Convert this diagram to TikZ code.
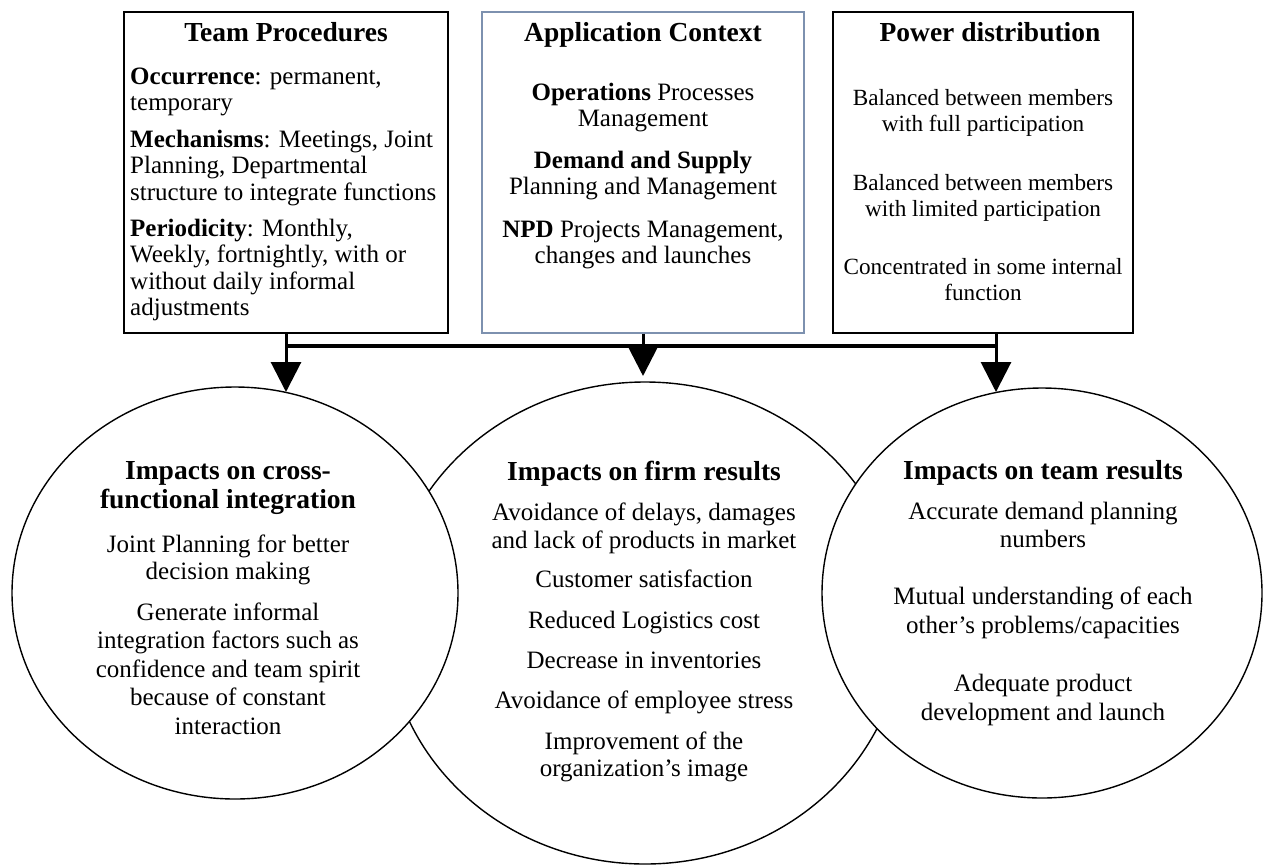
\documentclass[tikz,border=0pt]{standalone}
\usepackage{fontspec}
\setmainfont{Liberation Serif}
\usetikzlibrary{arrows.meta,shapes.geometric}
\newcommand\bodyf{\fontsize{25}{28}\selectfont}
\newcommand\smallbodyf{\fontsize{23.2}{26}\selectfont}
\newcommand\headf{\fontsize{27.5}{30}\selectfont\bfseries}
\definecolor{boxblue}{RGB}{125,145,175}
\tikzset{
  box/.style={draw=black, line width=1.5pt, fill=white, rectangle, inner sep=0pt},
  boxb/.style={draw=boxblue, line width=1.1pt, fill=white, rectangle, inner sep=0pt},
  circ/.style={draw=black, line width=1.4pt, fill=white, ellipse, inner sep=0pt},
  tx/.style={anchor=base, inner sep=0pt, font=\bodyf},
  txs/.style={anchor=base, inner sep=0pt, font=\smallbodyf},
  txl/.style={anchor=base west, inner sep=0pt, font=\bodyf},
  hd/.style={anchor=base, inner sep=0pt, font=\headf},
  conn/.style={line width=3pt, -{Triangle[length=30pt,width=30pt]}},
  bar/.style={line width=4pt}
}
\begin{document}
\begin{tikzpicture}[x=1pt,y=-1pt]
\useasboundingbox (0,0) rectangle (1263,865);
% boxes
\node[box, minimum width=324pt, minimum height=321pt] (tp) at (286,172.5) {};
\node[boxb, minimum width=322pt, minimum height=321pt] (ac) at (643,172.5) {};
\node[box, minimum width=300pt, minimum height=321pt] (pd) at (983,172.5) {};
% circles
\node[circ, minimum width=516pt, minimum height=482pt] (fc) at (645,623) {};
\node[circ, minimum width=446pt, minimum height=412pt] (lc) at (235,593) {};
\node[circ, minimum width=440pt, minimum height=410pt] (rc) at (1042,593) {};
% box 1 text
\node[hd] (tph) at (286,41) {Team Procedures};
\node[txl] (tp1) at (130,84) {\textbf{Occurrence}: permanent,};
\node[txl] (tp2) at (130,110.5) {temporary};
\node[txl] (tp3) at (130,147) {\textbf{Mechanisms}: Meetings, Joint};
\node[txl] (tp4) at (130,173.5) {Planning, Departmental};
\node[txl] (tp5) at (130,200) {structure to integrate functions};
\node[txl] (tp6) at (130,236) {\textbf{Periodicity}: Monthly,};
\node[txl] (tp7) at (130,262.5) {Weekly, fortnightly, with or};
\node[txl] (tp8) at (130,289) {without daily informal};
\node[txl] (tp9) at (130,315.5) {adjustments};
% box 2 text
\node[hd] (ach) at (643,41) {Application Context};
\node[tx] (ac1) at (643,100) {\textbf{Operations} Processes};
\node[tx] (ac2) at (643,126) {Management};
\node[tx] (ac3) at (643,168) {\textbf{Demand and Supply}};
\node[tx] (ac4) at (643,194) {Planning and Management};
\node[tx] (ac5) at (643,237) {\textbf{NPD} Projects Management,};
\node[tx] (ac6) at (643,263) {changes and launches};
% box 3 text
\node[hd] (pdh) at (990,41) {Power distribution};
\node[txs] (pd1) at (983,105) {Balanced between members};
\node[txs] (pd2) at (983,131) {with full participation};
\node[txs] (pd3) at (983,190) {Balanced between members};
\node[txs] (pd4) at (983,216) {with limited participation};
\node[txs] (pd5) at (983,274) {Concentrated in some internal};
\node[txs] (pd6) at (983,300) {function};
% left circle text
\node[hd] (lch1) at (228,479) {Impacts on cross-};
\node[hd] (lch2) at (228,508) {functional integration};
\node[tx] (lc1) at (228,552) {Joint Planning for better};
\node[tx] (lc2) at (228,579) {decision making};
\node[tx] (lc3) at (228,620) {Generate informal};
\node[tx] (lc4) at (228,648.5) {integration factors such as};
\node[tx] (lc5) at (228,677) {confidence and team spirit};
\node[tx] (lc6) at (228,705.5) {because of constant};
\node[tx] (lc7) at (228,734) {interaction};
% center circle text
\node[hd] (fch) at (644,480) {Impacts on firm results};
\node[tx] (fc1) at (644,520) {Avoidance of delays, damages};
\node[tx] (fc2) at (644,548) {and lack of products in market};
\node[tx] (fc3) at (644,587) {Customer satisfaction};
\node[tx] (fc4) at (644,628) {Reduced Logistics cost};
\node[tx] (fc5) at (644,668) {Decrease in inventories};
\node[tx] (fc6) at (644,708) {Avoidance of employee stress};
\node[tx] (fc7) at (644,749) {Improvement of the};
\node[tx] (fc8) at (644,776) {organization's image};
% right circle text
\node[hd] (rch) at (1043,479) {Impacts on team results};
\node[tx] (rc1) at (1043,519) {Accurate demand planning};
\node[tx] (rc2) at (1043,547) {numbers};
\node[tx] (rc3) at (1043,604) {Mutual understanding of each};
\node[tx] (rc4) at (1043,633) {other's problems/capacities};
\node[tx] (rc5) at (1043,691) {Adequate product};
\node[tx] (rc6) at (1043,720) {development and launch};
% connectors
\coordinate (a1) at (286,392);
\coordinate (a2) at (643,376);
\coordinate (a3) at (996,392);
\coordinate (bl) at (286,346);
\coordinate (br) at (996,346);
\draw[bar] (bl) -- (br);
\draw[conn] (tp.south) -- (a1);
\draw[conn] (ac.south) -- (a2);
\draw[conn] (pd.south -| a3) -- (a3);
\end{tikzpicture}
\end{document}
